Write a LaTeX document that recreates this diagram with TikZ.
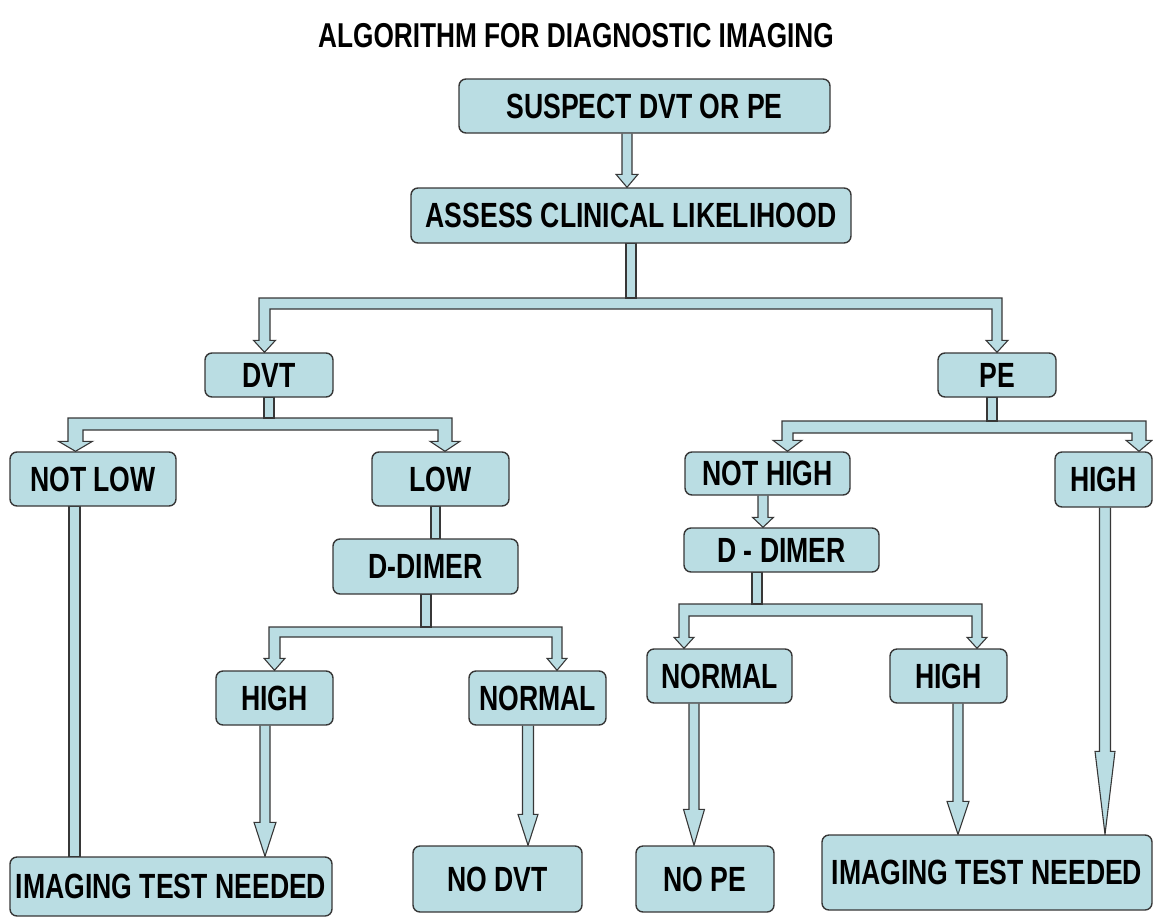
\documentclass[tikz,border=0pt]{standalone}
\usepackage{fontspec}
\newfontfamily\dfont{Liberation Sans}[FakeStretch=0.76]
\usetikzlibrary{calc,backgrounds}
\definecolor{boxfill}{RGB}{186,221,227}
\definecolor{edgec}{RGB}{55,55,55}
\tikzset{
  box/.style={draw=edgec, line width=1.4pt, fill=boxfill, rounded corners=7pt,
    inner sep=0pt, font=\dfont\bfseries\fontsize{35}{40}\selectfont},
  blk/.style={draw=edgec, line width=1.1pt, fill=boxfill, line join=miter},
  ttl/.style={font=\dfont\bfseries\fontsize{34.5}{40}\selectfont},
}
% simple block arrow: from, to, x, half shaft, half head, head length
\newcommand\sarr[6]{\draw[blk] let \p1=(#1.south), \p2=(#2.north) in
  (#3-#4,\y1) -- (#3-#4,{\y2+#6pt}) -- (#3-#5,{\y2+#6pt}) -- (#3,\y2)
  -- (#3+#5,{\y2+#6pt}) -- (#3+#4,{\y2+#6pt}) -- (#3+#4,\y1);}
% plain shaft: from, to, x, half width
\newcommand\pshaft[4]{\draw[blk] let \p1=(#1.south), \p2=(#2.north) in
  (#3-#4,\y1) rectangle (#3+#4,\y2);}
% stem from parent to bar top: parent, x, half, bar top
\newcommand\stem[4]{\draw[blk] let \p1=(#1.south) in
  (#2-#3,\y1) rectangle (#2+#3,#4);}
\begin{document}
\begin{tikzpicture}[x=1pt,y=-1pt]
\useasboundingbox (0,0) rectangle (1153,918);
\node[ttl] (title) at (576,36) {ALGORITHM FOR DIAGNOSTIC IMAGING};

\path
 (644.5,106) node[box, minimum width=371pt, minimum height=54pt] (s1) {SUSPECT DVT OR PE}
 (631,215.5) node[box, minimum width=440pt, minimum height=55pt] (s2) {ASSESS CLINICAL LIKELIHOOD}
 (269,375) node[box, minimum width=128pt, minimum height=44pt] (dvt) {DVT}
 (997,375) node[box, minimum width=118pt, minimum height=44pt] (pe) {PE}
 (93,479) node[box, minimum width=166pt, minimum height=54pt] (notlow) {NOT LOW}
 (440.5,479) node[box, minimum width=137pt, minimum height=54pt] (low) {LOW}
 (767.5,473.5) node[box, minimum width=165pt, minimum height=43pt] (nothigh) {NOT HIGH}
 (1103.5,479.5) node[box, minimum width=97pt, minimum height=55pt] (peh) {HIGH}
 (425.5,566.5) node[box, minimum width=185pt, minimum height=55pt] (dd1) {D-DIMER}
 (781.5,550) node[box, minimum width=195pt, minimum height=44pt] (dd2) {D - DIMER}
 (274.5,698) node[box, minimum width=117pt, minimum height=54pt] (high1) {HIGH}
 (537.5,698) node[box, minimum width=137pt, minimum height=54pt] (normal1) {NORMAL}
 (719.5,676) node[box, minimum width=145pt, minimum height=54pt] (normal2) {NORMAL}
 (948.5,676) node[box, minimum width=117pt, minimum height=54pt] (high2) {HIGH}
 (171,886.5) node[box, minimum width=322pt, minimum height=59pt] (itn1) {IMAGING TEST NEEDED}
 (497.5,879) node[box, minimum width=169pt, minimum height=66pt] (nodvt) {NO DVT}
 (705,879) node[box, minimum width=138pt, minimum height=66pt] (nope) {NO PE}
 (987,872.5) node[box, minimum width=330pt, minimum height=75pt] (itn2) {IMAGING TEST NEEDED};

\begin{pgfonlayer}{background}
\sarr{s1}{s2}{627}{5}{11}{13}
% fork 1: s2 -> dvt, pe
\draw[blk] let \p1=(dvt.north), \p2=(pe.north) in
  (259,298) -- (1002,298) -- (1002,{\y2+12pt}) -- (1008,{\y2+12pt}) -- (997,\y2)
  -- (986,{\y2+12pt}) -- (992,{\y2+12pt}) -- (992,309) -- (270,309)
  -- (270,{\y1+12pt}) -- (275.5,{\y1+12pt}) -- (264.5,\y1) -- (253.5,{\y1+12pt})
  -- (259,{\y1+12pt}) -- cycle;
\stem{s2}{631}{5}{298}
% fork 2: dvt -> notlow, low
\draw[blk] let \p1=(notlow.north), \p2=(low.north) in
  (68,418) -- (452,418) -- (452,{\y2+10pt}) -- (460,{\y2+10pt}) -- (445,\y2)
  -- (430,{\y2+10pt}) -- (438,{\y2+10pt}) -- (438,430) -- (83,430)
  -- (83,{\y1+10pt}) -- (92.5,{\y1+10pt}) -- (75.5,\y1) -- (58.5,{\y1+10pt})
  -- (68,{\y1+10pt}) -- cycle;
\stem{dvt}{269}{5}{418}
% fork 3: dd1 -> high1, normal1
\draw[blk] let \p1=(high1.north), \p2=(normal1.north) in
  (269,627) -- (562,627) -- (562,{\y2+12pt}) -- (567,{\y2+12pt}) -- (557,\y2)
  -- (547,{\y2+12pt}) -- (552,{\y2+12pt}) -- (552,637) -- (280,637)
  -- (280,{\y1+12pt}) -- (285,{\y1+12pt}) -- (274.5,\y1) -- (264,{\y1+12pt})
  -- (269,{\y1+12pt}) -- cycle;
\stem{dd1}{426}{5}{627}
% fork 4: pe -> nothigh, peh
\draw[blk] let \p1=(nothigh.north), \p2=(peh.north) in
  (782,421) -- (1146,421) -- (1146,{\y2+11pt}) -- (1152,{\y2+11pt}) -- (1139,\y2)
  -- (1126,{\y2+11pt}) -- (1132,{\y2+11pt}) -- (1132,433) -- (793,433)
  -- (793,{\y1+11pt}) -- (802,{\y1+11pt}) -- (787.5,\y1) -- (773,{\y1+11pt})
  -- (782,{\y1+11pt}) -- cycle;
\stem{pe}{992}{5}{421}
% fork 5: dd2 -> normal2, high2
\draw[blk] let \p1=(normal2.north), \p2=(high2.north) in
  (679,604) -- (982,604) -- (982,{\y2+11pt}) -- (987,{\y2+11pt}) -- (977,\y2)
  -- (967,{\y2+11pt}) -- (972,{\y2+11pt}) -- (972,616) -- (689,616)
  -- (689,{\y1+11pt}) -- (694,{\y1+11pt}) -- (684,\y1) -- (674,{\y1+11pt})
  -- (679,{\y1+11pt}) -- cycle;
\stem{dd2}{757}{5}{604}

\sarr{nothigh}{dd2}{763}{5}{10.5}{10}
\pshaft{low}{dd1}{435.5}{4.5}
\pshaft{notlow}{itn1}{74.5}{5.5}
\sarr{high1}{itn1}{265}{5}{11}{34}
\sarr{normal1}{nodvt}{528}{5.5}{10}{31}
\sarr{normal2}{nope}{694}{5}{10.5}{36}
\sarr{high2}{itn2}{958}{5}{11}{33}
\sarr{peh}{itn2}{1105}{5.5}{10}{83}
\end{pgfonlayer}
\end{tikzpicture}
\end{document}
